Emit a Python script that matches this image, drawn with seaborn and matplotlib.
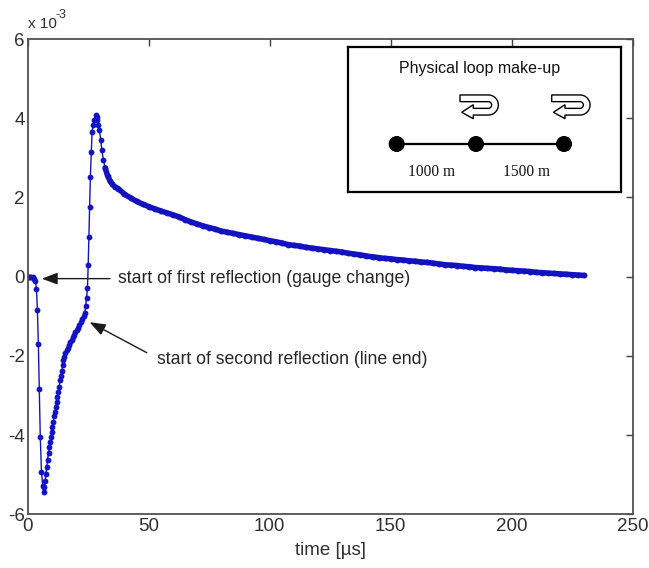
import numpy as np
import matplotlib
matplotlib.use("Agg")
import matplotlib.pyplot as plt
from matplotlib.patches import Circle, Polygon
import seaborn as sns
import pandas as pd

# ---------------- data (signal in units of 1e-3) ----------------
time_us = [
    0.0, 0.5, 1.0, 1.5, 2.0, 2.5, 3.2, 3.6, 4.0, 4.4, 4.8, 5.2, 5.7, 6.2, 6.6,
    6.9, 7.2, 7.5, 7.9, 8.2, 8.6, 8.9, 9.2, 9.5, 9.9,
    10.2, 10.6, 10.9, 11.3, 11.6, 12.0, 12.3, 12.7, 13.0, 13.4,
    13.7, 14.1, 14.4, 14.7, 15.1, 15.6, 16.1, 16.6, 17.1, 17.6,
    18.1, 18.6, 19.1, 19.6, 20.2, 20.8, 21.4, 22.0, 22.6, 23.2,
    23.6, 23.9, 24.3, 24.7,
    25.0, 25.3, 25.6, 25.9, 26.3, 26.6, 27.0, 27.5, 28.1, 28.5,
    28.8, 29.2, 29.6, 30.2, 30.6, 31.3, 32.0, 33.0, 34.0, 35.0, 36.0,
    37.5, 40.0, 42.5, 45.0, 47.5, 50.0, 52.5, 55.0, 57.5, 60.0,
    62.5, 65.0, 67.5, 70.0, 72.5, 75.0, 77.5, 80.0, 82.5, 85.0,
    87.5, 90.0, 92.5, 95.0, 97.5, 100.0, 102.5, 105.0, 107.5, 110.0,
    112.5, 115.0, 117.5, 120.0, 122.5, 125.0, 127.5, 130.0, 132.5, 135.0,
    137.5, 140.0, 142.5, 145.0, 147.5, 150.0, 152.5, 155.0, 157.5, 160.0,
    162.5, 165.0, 167.5, 170.0, 172.5, 175.0, 177.5, 180.0, 182.5, 185.0,
    187.5, 190.0, 192.5, 195.0, 197.5, 200.0, 202.5, 205.0, 207.5, 210.0,
    212.5, 215.0, 217.5, 220.0, 222.5, 225.0, 227.5, 230.0,
]
signal_e3 = [
    0.0, 0.0, 0.0, -0.01, -0.02, -0.05, -0.12, -0.31, -0.83, -1.71, -2.84, -4.05, -4.94, -5.28, -5.43,
    -5.30, -5.15, -4.98, -4.80, -4.62, -4.45, -4.30, -4.18, -4.06, -3.93,
    -3.80, -3.66, -3.53, -3.41, -3.29, -3.17, -3.05, -2.92, -2.78, -2.62,
    -2.50, -2.38, -2.24, -2.11, -2.02, -1.94, -1.86, -1.79, -1.72, -1.65,
    -1.59, -1.53, -1.47, -1.41, -1.35, -1.29, -1.22, -1.15, -1.08, -1.00,
    -0.92, -0.75, -0.55, -0.28,
    0.30, 1.01, 1.77, 2.52, 3.15, 3.66, 3.82, 3.95, 4.08, 4.02,
    3.95, 3.83, 3.70, 3.45, 3.20, 2.94, 2.75, 2.55, 2.42, 2.33, 2.27,
    2.22, 2.08, 1.99, 1.90, 1.83, 1.77, 1.71, 1.66, 1.61, 1.56,
    1.51, 1.44, 1.38, 1.33, 1.28, 1.24, 1.20, 1.15, 1.12, 1.09,
    1.06, 1.03, 1.00, 0.97, 0.94, 0.91, 0.88, 0.85, 0.81, 0.79,
    0.77, 0.74, 0.72, 0.70, 0.68, 0.66, 0.64, 0.62, 0.59, 0.57,
    0.55, 0.52, 0.50, 0.48, 0.46, 0.45, 0.43, 0.42, 0.40, 0.39,
    0.37, 0.36, 0.34, 0.32, 0.30, 0.29, 0.28, 0.26, 0.25, 0.23,
    0.22, 0.21, 0.20, 0.19, 0.17, 0.16, 0.15, 0.14, 0.13, 0.11,
    0.10, 0.09, 0.08, 0.07, 0.06, 0.05, 0.04, 0.03,
]
x_ticks = [0, 50, 100, 150, 200, 250]
y_ticks = [-6, -4, -2, 0, 2, 4, 6]
x_label = "time [µs]"
note_first = "start of first reflection (gauge change)"
note_second = "start of second reflection (line end)"
inset_title = "Physical loop make-up"
segment_labels = ["1000 m", "1500 m"]

# ---------------- style ----------------
sns.set_theme(style="white")
plt.rcParams["font.family"] = ["Liberation Sans", "DejaVu Sans"]
plt.rcParams["xtick.direction"] = "in"
plt.rcParams["ytick.direction"] = "in"

W, H = 649, 568
fig = plt.figure(figsize=(W / 100, H / 100), dpi=100)
ax = fig.add_axes([27.7 / W, 1 - 514.3 / H, (632.7 - 27.7) / W, (514.3 - 39.0) / H])

df = pd.DataFrame({"t": time_us, "v": signal_e3})
line_col = "#1414b0"
sns.lineplot(data=df, x="t", y="v", ax=ax, estimator=None, sort=False,
             color=line_col, linewidth=1.0, marker="o", markersize=4.2,
             markeredgewidth=0, markerfacecolor="#1212c8")
# densely sampled tail renders as a solid thick band in the reference
sns.lineplot(data=df[df["t"] >= 32.0], x="t", y="v", ax=ax, estimator=None, sort=False,
             color="#1212c0", linewidth=4.0, solid_capstyle="round")

ax.set_xlim(0, 250)
ax.set_ylim(-6, 6)
ax.set_xticks(x_ticks)
ax.set_yticks(y_ticks)
ax.set_xticklabels([str(v) for v in x_ticks])
ax.set_yticklabels([str(v) for v in y_ticks])
ax.tick_params(axis="both", which="both", direction="in", length=5, width=1,
               color="#404040", labelsize=13.5, labelcolor="#303030",
               top=True, right=True, pad=3)
ax.tick_params(axis="y", pad=2)
for s in ax.spines.values():
    s.set_color("#505050")
    s.set_linewidth(1.3)
ax.set_xlabel(x_label, fontsize=13.5, color="#303030", labelpad=5)
ax.set_ylabel("")
ax.grid(False)

# exponent marker
fig.text(28 / W, 1 - 24 / H, "x 10", fontsize=11, color="#303030", ha="left", va="center")
fig.text(55.5 / W, 1 - 15 / H, "-3", fontsize=9, color="#303030", ha="left", va="center")

# annotations
arrow_kw = dict(arrowstyle="-|>,head_length=0.8,head_width=0.3", color="#1a1a1a",
                lw=1.0, shrinkA=0, shrinkB=0)
ax.annotate("", xy=(5.8, -0.05), xytext=(34.0, -0.05), arrowprops=arrow_kw)
ax.text(37.4, -0.05, note_first, ha="left", va="center", fontsize=12.7, color="#262626")
ax.annotate("", xy=(25.6, -1.15), xytext=(49.2, -1.92), arrowprops=arrow_kw)
ax.text(53.4, -2.09, note_second, ha="left", va="center", fontsize=12.7, color="#262626")

# ---------------- inset diagram (pixel-like local coords, y down) ----------------
bx0, by0, bx1, by1 = 348.3, 47.3, 621.0, 191.7
axi = fig.add_axes([bx0 / W, 1 - by1 / H, (bx1 - bx0) / W, (by1 - by0) / H])
axi.set_xlim(0, bx1 - bx0)
axi.set_ylim(by1 - by0, 0)
axi.set_xticks([])
axi.set_yticks([])
axi.set_facecolor("white")
for s in axi.spines.values():
    s.set_color("black")
    s.set_linewidth(1.6)

axi.text(131, 21, inset_title, ha="center", va="center", fontsize=11.5, color="#111111")
node_x = [48.4, 127.7, 215.7]
node_y = 96.7
axi.plot([node_x[0], node_x[-1]], [node_y, node_y], color="black", lw=1.6, solid_capstyle="butt")
for nx in node_x:
    axi.add_patch(Circle((nx, node_y), 7.3, color="black", zorder=3))
axi.text(83.4, 124.5, segment_labels[0], ha="center", va="center", fontsize=11.2,
         family=["Liberation Serif", "DejaVu Serif"], color="#111111")
axi.text(178.4, 124.5, segment_labels[1], ha="center", va="center", fontsize=11.2,
         family=["Liberation Serif", "DejaVu Serif"], color="#111111")


def u_turn_arrow(x0):
    cx, cy = x0 + 28.3, 57.7
    ro, ri = 10.05, 3.35
    hb = x0 + 13.3
    verts = [(x0, cy - ro), (cx, cy - ro)]
    ang = np.linspace(-np.pi / 2, np.pi / 2, 25)
    verts += [(cx + ro * np.cos(a), cy + ro * np.sin(a)) for a in ang]
    yb = cy + (ro + ri) / 2
    verts += [(hb, cy + ro), (hb, yb + 7.0), (x0 + 1.7, yb + 0.6), (hb, yb - 7.0), (hb, cy + ri)]
    verts += [(cx, cy + ri)]
    verts += [(cx + ri * np.cos(a), cy + ri * np.sin(a)) for a in ang[::-1]]
    verts += [(x0, cy - ri)]
    axi.add_patch(Polygon(verts, closed=True, facecolor="white", edgecolor="black",
                          lw=1.0, joinstyle="miter", zorder=3))


u_turn_arrow(111.7)
u_turn_arrow(203.4)

fig.savefig("out.png", dpi=100)
